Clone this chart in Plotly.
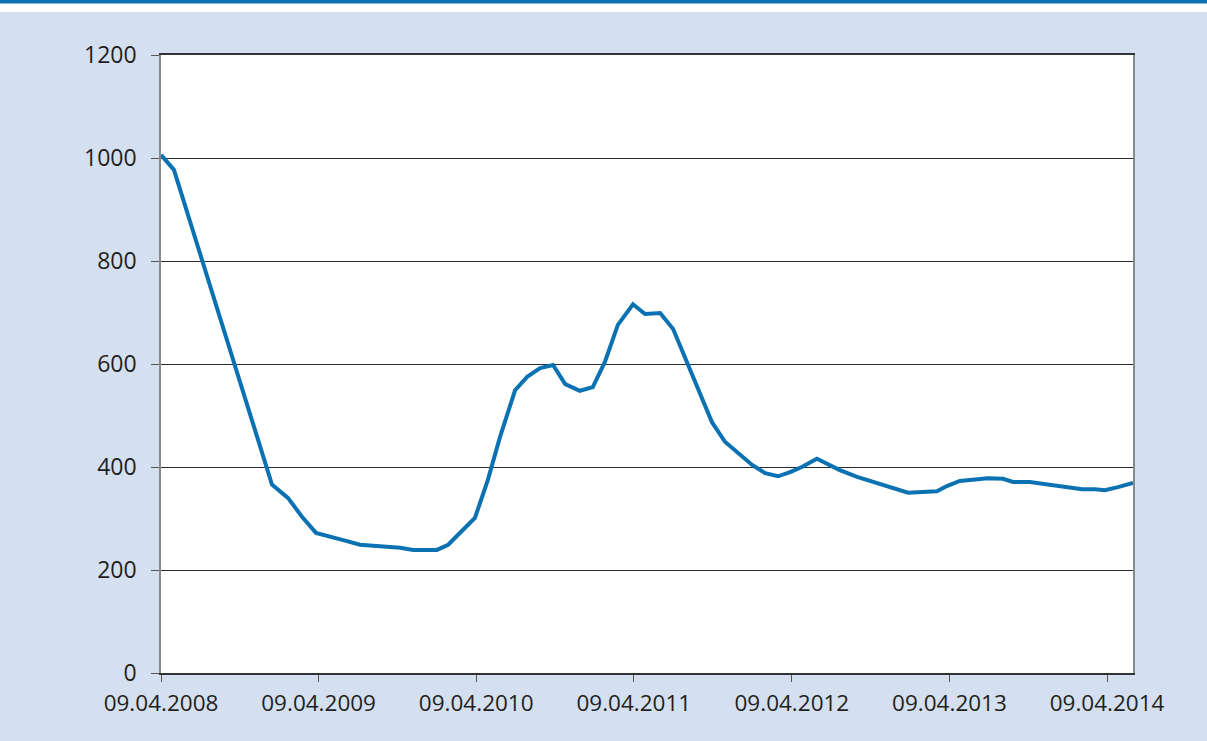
import plotly.graph_objects as go

dates = [
    "2008-04-09", "2008-05-09", "2008-12-22", "2009-01-28", "2009-03-02", "2009-04-03",
    "2009-06-05", "2009-07-14", "2009-08-29", "2009-10-15", "2009-11-14", "2010-01-08",
    "2010-02-03", "2010-03-09", "2010-04-06", "2010-05-06", "2010-06-03", "2010-07-08",
    "2010-08-05", "2010-09-04", "2010-10-04", "2010-11-01", "2010-12-05", "2011-01-04",
    "2011-02-01", "2011-03-03", "2011-04-07", "2011-05-05", "2011-06-09", "2011-07-09",
    "2011-08-06", "2011-09-05", "2011-10-07", "2011-11-06", "2011-12-06", "2012-01-08",
    "2012-02-07", "2012-03-08", "2012-04-05", "2012-05-02", "2012-06-06", "2012-07-29",
    "2012-09-07", "2012-11-11", "2013-01-03", "2013-03-11", "2013-04-03", "2013-05-03",
    "2013-06-12", "2013-07-07", "2013-08-11", "2013-09-03", "2013-10-12", "2013-11-28",
    "2014-01-13", "2014-02-10", "2014-03-12", "2014-04-04", "2014-05-04", "2014-06-08",
]
values = [
    1006, 977, 366, 340, 303, 272,
    258, 249, 246, 243, 239, 239,
    249, 278, 301, 375, 458, 549,
    575, 592, 598, 561, 548, 555,
    604, 676, 716, 697, 699, 668,
    612, 553, 487, 449, 427, 404,
    388, 382, 390, 400, 416, 394,
    381, 365, 350, 353, 363, 373,
    376, 378, 377, 371, 371, 365,
    359, 357, 357, 355, 361, 369,
]

tick_dates = ["2008-04-09", "2009-04-09", "2010-04-09", "2011-04-09",
              "2012-04-09", "2013-04-09", "2014-04-09"]
tick_labels = ["09.04.2008", "09.04.2009", "09.04.2010", "09.04.2011",
               "09.04.2012", "09.04.2013", "09.04.2014"]
y_ticks = [0, 200, 400, 600, 800, 1000, 1200]

BG = "#d4dff0"
BLUE = "#0a72b3"
TXT = "#231f20"

fig = go.Figure()
fig.add_trace(go.Scatter(
    x=dates, y=values, mode="lines",
    line=dict(color=BLUE, width=4),
    hoverinfo="x+y", showlegend=False,
))

fig.update_layout(
    width=1207, height=741,
    margin=dict(l=161, r=74, t=55, b=68),
    paper_bgcolor=BG, plot_bgcolor="white",
    font=dict(family="Open Sans", size=23, color=TXT),
    xaxis=dict(
        type="date", range=["2008-04-09", "2014-06-08"],
        tickmode="array", tickvals=tick_dates, ticktext=tick_labels,
        tickfont=dict(size=22.5),
        showgrid=False, zeroline=False,
        showline=True, linecolor="#333333", linewidth=1.5, mirror=True,
        ticks="outside", ticklen=7, tickcolor="#555555", tickwidth=1.2,
        ticklabelstandoff=2,
    ),
    yaxis=dict(
        range=[0, 1200], tickmode="array", tickvals=y_ticks,
        showgrid=True, gridcolor="#2a2a2a", gridwidth=1.2,
        zeroline=False,
        showline=True, linecolor="#8a8a8a", linewidth=1.5, mirror=True,
        ticks="outside", ticklen=8, tickcolor="#555555", tickwidth=1.2,
        ticklabelstandoff=10,
    ),
    shapes=[
        dict(type="rect", xref="paper", yref="paper",
             x0=-0.2, x1=1.2, y0=1.0696, y1=1.1,
             fillcolor="white", line=dict(width=0), layer="below"),
        dict(type="rect", xref="paper", yref="paper",
             x0=-0.2, x1=1.2, y0=1.0833, y1=1.1,
             fillcolor=BLUE, line=dict(width=0), layer="below"),
    ],
)

fig.write_html(
    "out.html",
    config={"displayModeBar": False},
    post_script="document.body.style.margin='0';document.body.style.overflow='hidden';",
)
